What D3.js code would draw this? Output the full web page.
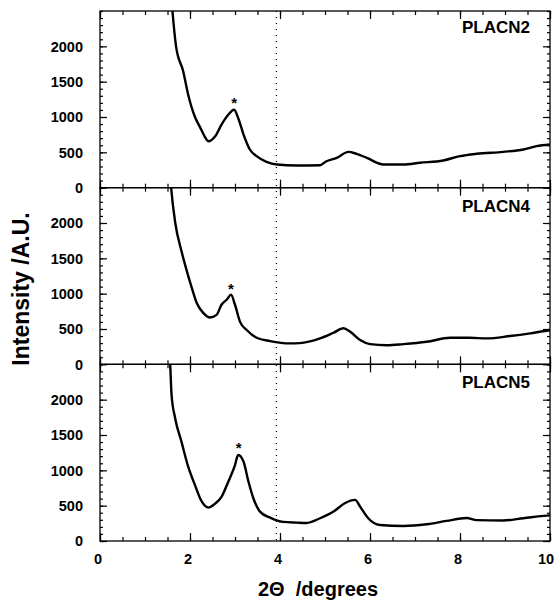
<!DOCTYPE html>
<html>
<head>
<meta charset="utf-8">
<script src="https://cdn.jsdelivr.net/npm/d3@7"></script>
<style>
  body { margin: 0; background: #fff; }
  text { font-family: "Liberation Sans", Arial, sans-serif; font-weight: bold; }
</style>
</head>
<body>
<script>
// sample names, top to bottom
var samples = ["PLACN2", "PLACN4", "PLACN5"];

// 2theta (degrees) readings for each trace
var theta2 = [1.55, 1.61, 1.69, 1.85, 1.96, 2.11, 2.22, 2.33, 2.41, 2.56, 2.70, 2.85, 2.98, 3.07, 3.19, 3.33, 3.48, 3.70, 3.93, 4.37, 4.89, 5.02, 5.26, 5.52, 5.70, 5.93, 6.30, 6.74, 7.11, 7.63, 8.0, 8.37, 8.96, 9.41, 9.70, 10];
var placn2 = [3000, 2500, 2000, 1643, 1314, 1000, 860, 720, 657, 728, 892, 1032, 1103, 986, 751, 540, 446, 366, 328, 314, 318, 370, 422, 507, 479, 422, 328, 328, 352, 385, 446, 479, 507, 540, 587, 610];

var theta4 = [1.52, 1.58, 1.67, 1.81, 1.93, 2.04, 2.15, 2.30, 2.44, 2.59, 2.70, 2.83, 2.91, 3.0, 3.11, 3.26, 3.48, 3.78, 4.22, 4.44, 4.89, 5.19, 5.41, 5.56, 5.78, 6.0, 6.37, 6.74, 7.26, 7.78, 8.22, 8.59, 9.11, 9.56, 9.93, 10];
var placn4 = [3000, 2500, 2010, 1604, 1319, 1081, 867, 724, 662, 700, 843, 924, 986, 843, 604, 486, 376, 329, 296, 300, 367, 447, 510, 461, 343, 286, 271, 286, 319, 376, 376, 367, 400, 438, 476, 480];

var theta5 = [1.50, 1.56, 1.59, 1.67, 1.81, 1.96, 2.11, 2.26, 2.41, 2.56, 2.70, 2.85, 3.0, 3.07, 3.19, 3.30, 3.41, 3.56, 3.78, 4.07, 4.37, 4.59, 4.89, 5.19, 5.44, 5.67, 5.78, 5.96, 6.22, 6.74, 7.26, 7.70, 8.15, 8.37, 8.96, 9.41, 9.93, 10];
var placn5 = [3000, 2500, 2070, 1738, 1406, 1051, 791, 560, 473, 530, 625, 838, 1075, 1217, 1122, 838, 601, 412, 331, 270, 260, 255, 322, 416, 535, 582, 487, 322, 227, 213, 237, 284, 325, 295, 290, 322, 359, 362];

// asterisk marks above the low-angle peaks
var starX = [2.98, 2.91, 3.08];
var starY = [1280, 1140, 1400];

var xTicks = [0, 2, 4, 6, 8, 10];
var yTicks = [0, 500, 1000, 1500, 2000];
var dottedAt = 3.92;

var series = [
  { name: samples[0], x: theta2, y: placn2 },
  { name: samples[1], x: theta4, y: placn4 },
  { name: samples[2], x: theta5, y: placn5 }
];

var width = 557, height = 600;
var plotLeft = 100, plotRight = 550, plotTop = 11, plotBottom = 541;
var panelH = (plotBottom - plotTop) / 3;

var svg = d3.select("body").append("svg")
    .attr("width", width)
    .attr("height", height);

var x = d3.scaleLinear().domain([0, 10]).range([plotLeft, plotRight]);

svg.append("defs").append("clipPath").attr("id", "plotclip")
  .append("rect")
    .attr("x", plotLeft).attr("y", 0)
    .attr("width", plotRight - plotLeft).attr("height", panelH);

series.forEach(function (s, j) {
    var y0 = plotTop + j * panelH;
    var y = d3.scaleLinear().domain([0, 2500]).range([panelH, 0]);

    var panel = svg.append("g")
        .attr("class", "panel" + j)
        .attr("transform", "translate(0," + y0 + ")");

    // minor / major ticks, all pointing in
    function tickAxis(axis, tr) {
        var g = panel.append("g").attr("transform", tr).call(axis);
        g.select(".domain").remove();
        g.selectAll(".tick line").attr("stroke", "#000").attr("stroke-width", 1.2);
        g.selectAll("text").remove();
    }
    var minorX = d3.range(0, 10.01, 0.5);
    var minorY = d3.range(0, 2501, 100);
    tickAxis(d3.axisBottom(x).tickValues(minorX).tickSize(-4), "translate(0," + panelH + ")");
    tickAxis(d3.axisBottom(x).tickValues(xTicks).tickSize(-8), "translate(0," + panelH + ")");
    tickAxis(d3.axisTop(x).tickValues(minorX).tickSize(-4), "translate(0,0)");
    tickAxis(d3.axisTop(x).tickValues(xTicks).tickSize(-8), "translate(0,0)");
    tickAxis(d3.axisLeft(y).tickValues(minorY).tickSize(-3), "translate(" + plotLeft + ",0)");
    tickAxis(d3.axisLeft(y).tickValues(yTicks).tickSize(-7), "translate(" + plotLeft + ",0)");
    tickAxis(d3.axisRight(y).tickValues(minorY).tickSize(-3), "translate(" + plotRight + ",0)");
    tickAxis(d3.axisRight(y).tickValues(yTicks).tickSize(-7), "translate(" + plotRight + ",0)");

    // y tick labels
    panel.selectAll("text.ylab")
        .data(yTicks)
        .enter().append("text")
        .attr("class", "ylab")
        .attr("x", plotLeft - 17)
        .attr("y", function (d) { return y(d); })
        .attr("dy", "0.36em")
        .attr("text-anchor", "end")
        .attr("font-size", 14.5)
        .text(function (d) { return d; });

    panel.append("rect")
        .attr("x", plotLeft).attr("y", 0)
        .attr("width", plotRight - plotLeft).attr("height", panelH)
        .attr("fill", "none")
        .attr("stroke", "#000")
        .attr("stroke-width", 1.3);

    var pts = s.x.map(function (v, i) { return { x: v, y: s.y[i] }; });
    var line = d3.line()
        .x(function (d) { return x(d.x); })
        .y(function (d) { return y(d.y); })
        .curve(d3.curveMonotoneX);

    panel.append("path")
        .attr("d", line(pts))
        .attr("clip-path", "url(#plotclip)")
        .attr("fill", "none")
        .attr("stroke", "#000")
        .attr("stroke-width", 2.4)
        .attr("stroke-linejoin", "round");

    panel.append("text")
        .attr("x", x(starX[j]))
        .attr("y", y(starY[j]))
        .attr("dy", "0.7em")
        .attr("text-anchor", "middle")
        .attr("font-size", 15)
        .text("*");

    panel.append("text")
        .attr("x", 530)
        .attr("y", [22, 24, 24][j])
        .attr("text-anchor", "end")
        .attr("font-size", 17)
        .text(s.name);
});

// dotted guide through all panels
svg.append("line")
    .attr("x1", x(dottedAt)).attr("x2", x(dottedAt))
    .attr("y1", plotTop).attr("y2", plotBottom)
    .attr("stroke", "#000")
    .attr("stroke-width", 1.2)
    .attr("stroke-dasharray", "1,5");

svg.selectAll("text.xlab")
    .data(xTicks)
    .enter().append("text")
    .attr("class", "xlab")
    .attr("x", function (d) { return x(d) - (d === 10 ? 4 : 2); })
    .attr("y", 564)
    .attr("text-anchor", "middle")
    .attr("font-size", 14.5)
    .text(function (d) { return d; });

svg.append("text")
    .attr("x", 318)
    .attr("y", 596)
    .attr("text-anchor", "middle")
    .attr("font-size", 20)
    .attr("xml:space", "preserve")
    .text("2\u0398  /degrees");

svg.append("text")
    .attr("transform", "translate(29,289) rotate(-90)")
    .attr("text-anchor", "middle")
    .attr("font-size", 23)
    .text("Intensity /A.U.");
</script>
</body>
</html>
